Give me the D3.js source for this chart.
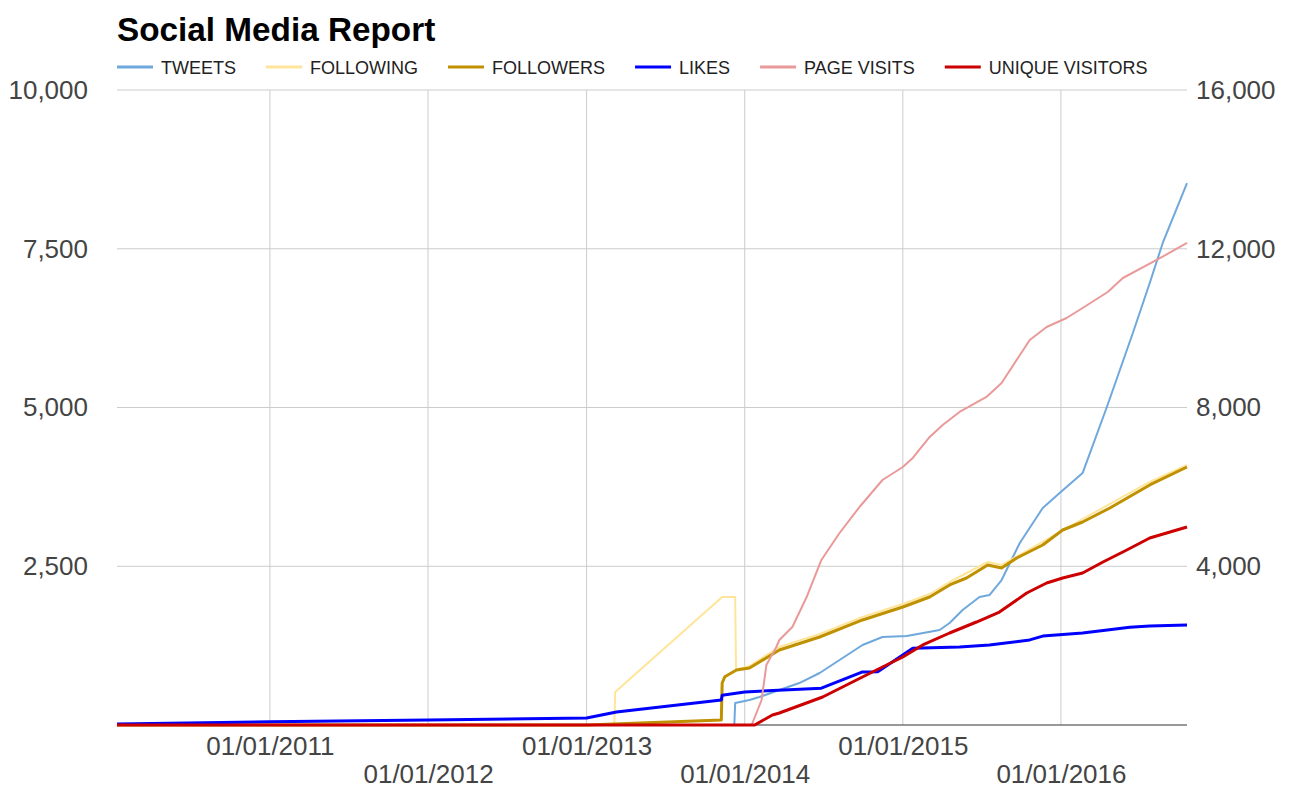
<!DOCTYPE html>
<html>
<head>
<meta charset="utf-8">
<script src="https://cdn.jsdelivr.net/npm/d3@7"></script>
<style>
  body { margin: 0; background: #fff; }
  text { font-family: Arial, "Liberation Sans", sans-serif; }
</style>
</head>
<body>
<div id="chart"></div>
<script>
// dati (data, valore)
const tweets = [["2010-01-13",0],["2013-12-08",0],["2013-12-10",346],["2014-01-12",394],["2014-02-04",441],["2014-05-07",661],["2014-06-23",819],["2014-09-30",1260],["2014-11-15",1386],["2015-01-10",1402],["2015-03-27",1496],["2015-04-19",1606],["2015-05-19",1811],["2015-06-27",2016],["2015-07-20",2047],["2015-08-17",2283],["2015-09-28",2866],["2015-11-20",3417],["2015-12-29",3654],["2016-02-20",3968],["2016-04-16",5008],["2016-06-15",6173],["2016-07-24",6961],["2016-08-23",7591],["2016-10-18",8535]];
const following = [["2010-01-13",0],["2013-03-06",0],["2013-03-08",520],["2013-11-10",2016],["2013-12-10",2016],["2013-12-12",870],["2014-01-12",929],["2014-03-22",1228],["2014-06-23",1433],["2014-09-30",1700],["2015-01-01",1905],["2015-03-04",2063],["2015-04-19",2252],["2015-07-16",2567],["2015-08-17",2520],["2015-11-20",2882],["2016-02-20",3244],["2016-07-24",3827],["2016-10-18",4094]];
const followers = [["2010-01-13",0],["2013-01-01",0],["2013-11-08",80],["2013-11-10",661],["2013-11-16",760],["2013-12-13",866],["2014-01-12",898],["2014-03-22",1181],["2014-06-23",1386],["2014-09-30",1654],["2015-01-01",1858],["2015-03-04",2016],["2015-04-19",2205],["2015-05-28",2315],["2015-07-16",2520],["2015-08-17",2472],["2015-09-21",2630],["2015-11-20",2835],["2016-01-05",3071],["2016-02-20",3197],["2016-04-23",3417],["2016-07-24",3780],["2016-10-18",4063]];
const likes = [["2010-01-13",15],["2011-01-01",50],["2012-01-01",80],["2013-01-01",110],["2013-03-11",205],["2013-11-08",395],["2013-11-10",470],["2014-01-01",520],["2014-06-27",580],["2014-09-30",835],["2014-11-04",840],["2015-01-24",1210],["2015-05-12",1230],["2015-07-20",1260],["2015-10-21",1340],["2015-11-20",1400],["2016-02-20",1450],["2016-06-08",1540],["2016-07-24",1560],["2016-10-18",1575]];
// questi due stanno sull'asse destro
const pageVisits = [["2010-01-13",0],["2014-01-17",0],["2014-02-09",630],["2014-02-20",1512],["2014-03-15",1965],["2014-03-22",2142],["2014-04-21",2469],["2014-05-24",3225],["2014-06-27",4158],["2014-08-08",4838],["2014-09-23",5493],["2014-11-15",6173],["2015-01-01",6501],["2015-01-24",6728],["2015-03-04",7257],["2015-04-03",7559],["2015-05-12",7887],["2015-07-13",8265],["2015-08-17",8617],["2015-10-21",9701],["2015-11-29",10028],["2016-01-14",10255],["2016-02-20",10507],["2016-04-18",10910],["2016-05-23",11263],["2016-08-09",11717],["2016-10-18",12145]];
const uniqueVisitors = [["2010-01-13",0],["2014-01-24",0],["2014-03-06",252],["2014-03-22",302],["2014-06-30",706],["2014-09-16",1134],["2014-11-15",1461],["2015-01-01",1713],["2015-02-16",2016],["2015-04-19",2318],["2015-06-20",2595],["2015-08-12",2847],["2015-10-14",3326],["2015-11-29",3578],["2016-01-05",3704],["2016-02-20",3830],["2016-04-07",4107],["2016-06-01",4409],["2016-07-24",4712],["2016-09-01",4838],["2016-10-18",4989]];

const seriesNames = ["TWEETS", "FOLLOWING", "FOLLOWERS", "LIKES", "PAGE VISITS", "UNIQUE VISITORS"];
const leftTicks = [2500, 5000, 7500, 10000];
const rightTicks = [4000, 8000, 12000, 16000];
const xTicks = ["2011-01-01", "2012-01-01", "2013-01-01", "2014-01-01", "2015-01-01", "2016-01-01"];
const xDomain = ["2010-01-13", "2016-10-18"];

const parse = d3.timeParse("%Y-%m-%d");

const series = [
    { name: seriesNames[0], data: tweets, color: "#6fa8dc", w: 2, axis: "left" },
    { name: seriesNames[1], data: following, color: "#ffe599", w: 2, axis: "left" },
    { name: seriesNames[2], data: followers, color: "#bf9000", w: 3, axis: "left" },
    { name: seriesNames[3], data: likes, color: "#0000ff", w: 3, axis: "left" },
    { name: seriesNames[4], data: pageVisits, color: "#ea9999", w: 2, axis: "right" },
    { name: seriesNames[5], data: uniqueVisitors, color: "#cc0000", w: 3, axis: "right" }
];

const W = 1309, H = 788;
const margin = { top: 90, right: 122, bottom: 63, left: 117 };
const width = W - margin.left - margin.right;
const height = H - margin.top - margin.bottom;

const svg = d3.select("#chart").append("svg")
    .attr("width", W)
    .attr("height", H);

// titolo
svg.append("text")
    .attr("x", 117).attr("y", 41)
    .attr("font-size", 33.3).attr("font-weight", "bold")
    .attr("fill", "#000")
    .text("Social Media Report");

// legenda
const legend = svg.append("g").attr("transform", "translate(0,67)");
let lx = 117;
series.forEach(s => {
    legend.append("line")
        .attr("x1", lx).attr("x2", lx + 36)
        .attr("y1", 0).attr("y2", 0)
        .attr("stroke", s.color).attr("stroke-width", 3);
    const t = legend.append("text")
        .attr("x", lx + 44).attr("y", 6.5)
        .attr("font-size", 18).attr("fill", "#222")
        .text(s.name);
    lx = lx + 44 + t.node().getComputedTextLength() + 30;
});

const g = svg.append("g").attr("transform", `translate(${margin.left},${margin.top})`);

const x = d3.scaleTime().domain(xDomain.map(parse)).range([0, width]);
const yL = d3.scaleLinear().domain([0, 10000]).range([height, 0]);
const yR = d3.scaleLinear().domain([0, 16000]).range([height, 0]);

// griglia orizzontale
g.selectAll(".hgrid").data(leftTicks).join("line")
    .attr("x1", 0).attr("x2", width)
    .attr("y1", d => yL(d)).attr("y2", d => yL(d))
    .attr("stroke", "#cccccc").attr("stroke-width", 1);

// griglia verticale
g.selectAll(".vgrid").data(xTicks.map(parse)).join("line")
    .attr("x1", d => x(d)).attr("x2", d => x(d))
    .attr("y1", 0).attr("y2", height)
    .attr("stroke", "#cccccc").attr("stroke-width", 1);

// assi
const axisLeft = g.append("g")
    .call(d3.axisLeft(yL).tickValues(leftTicks).tickSize(0).tickPadding(29).tickFormat(d3.format(",")));
const axisRight = g.append("g")
    .attr("transform", `translate(${width},0)`)
    .call(d3.axisRight(yR).tickValues(rightTicks).tickSize(0).tickPadding(9).tickFormat(d3.format(",")));
const axisBottom = g.append("g")
    .attr("transform", `translate(0,${height})`)
    .call(d3.axisBottom(x).tickValues(xTicks.map(parse)).tickSize(0).tickFormat(d3.timeFormat("%d/%m/%Y")));

[axisLeft, axisRight, axisBottom].forEach(a => {
    a.select(".domain").remove();
    a.selectAll("text")
        .attr("font-size", 26)
        .attr("font-family", "Arial, 'Liberation Sans', sans-serif")
        .attr("fill", "#444");
});

// etichette x su due righe alternate
axisBottom.selectAll("text")
    .attr("dy", 0)
    .attr("y", (d, i) => i % 2 === 0 ? 30 : 58);

// linee
const lineL = d3.line().x(d => x(parse(d[0]))).y(d => yL(d[1]));
const lineR = d3.line().x(d => x(parse(d[0]))).y(d => yR(d[1]));

// linea dello zero
g.append("line")
    .attr("x1", 0).attr("x2", width)
    .attr("y1", height).attr("y2", height)
    .attr("stroke", "#333").attr("stroke-width", 1);

series.forEach(s => {
    g.append("path")
        .datum(s.data)
        .attr("fill", "none")
        .attr("stroke", s.color)
        .attr("stroke-width", s.w)
        .attr("stroke-linejoin", "round")
        .attr("d", s.axis === "left" ? lineL : lineR);
});
</script>
</body>
</html>
